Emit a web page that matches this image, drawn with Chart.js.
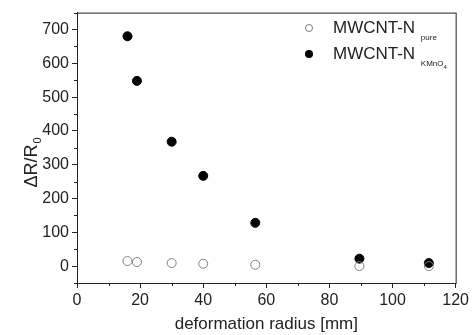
<!DOCTYPE html>
<html>
<head>
<meta charset="utf-8">
<script src="https://cdn.jsdelivr.net/npm/chart.js@4.4.0/dist/chart.umd.min.js"></script>
<style>
  html, body { margin: 0; padding: 0; background: #fff; }
  #wrap { width: 472px; height: 335px; }
</style>
</head>
<body>
<div id="wrap"><canvas id="ctx-radius"></canvas></div>
<script>
// deformation radius [mm]
const radius = [16, 19, 30, 40, 56.5, 89.5, 111.5];
// dR/R0 values
const purData = [15, 12, 9, 7, 4, 0, 0];
const kmnData = [680, 548, 368, 267, 128, 22, 9];

const xTicks = [0, 20, 40, 60, 80, 100, 120];
const xMinor = [10, 30, 50, 70, 90, 110];
const yTicks = [0, 100, 200, 300, 400, 500, 600, 700];
const yMinor = [-50, 50, 150, 250, 350, 450, 550, 650, 750];

const FONT = 'Liberation Sans, Arial, sans-serif';
const axisColor = '#222';

const toPoints = (vals) => radius.map((r, i) => ({ x: r, y: vals[i] }));

// frame, minor ticks, y title with subscript and the legend
const decor = {
    id: 'decor',
    afterDraw(chart) {
        const c = chart.ctx;
        const a = chart.chartArea;
        const xs = chart.scales.x;
        const ys = chart.scales.y;
        c.save();
        c.strokeStyle = axisColor;
        c.lineWidth = 1;
        c.strokeRect(a.left + 0.5, a.top + 0.5, a.right - a.left, a.bottom - a.top);

        c.beginPath();
        xMinor.forEach(v => {
            const px = Math.round(xs.getPixelForValue(v)) + 0.5;
            c.moveTo(px, a.bottom);
            c.lineTo(px, a.bottom + 3);
        });
        yMinor.forEach(v => {
            const py = Math.round(ys.getPixelForValue(v)) + 0.5;
            c.moveTo(a.left, py);
            c.lineTo(a.left - 3, py);
        });
        c.stroke();

        // y axis title
        c.fillStyle = '#222';
        c.translate(31, 163);
        c.rotate(-Math.PI / 2);
        c.font = '18px ' + FONT;
        c.textBaseline = 'alphabetic';
        c.textAlign = 'left';
        const main = '\u0394R/R';
        const w = c.measureText(main).width;
        c.font = '11px ' + FONT;
        const ws = c.measureText('0').width;
        const x0 = -(w + ws) / 2;
        c.font = '18px ' + FONT;
        c.fillText(main, x0, 6);
        c.font = '11px ' + FONT;
        c.fillText('0', x0 + w + 1, 10);
        c.setTransform(1, 0, 0, 1, 0, 0);

        // legend
        const items = [
            { sub: 'pure', sub2: '', filled: false, y: 28 },
            { sub: 'KMnO', sub2: '4', filled: true, y: 54 }
        ];
        items.forEach(it => {
            c.beginPath();
            c.arc(309, it.y, it.filled ? 4 : 3.5, 0, Math.PI * 2);
            if (it.filled) {
                c.fillStyle = '#000';
                c.fill();
            } else {
                c.strokeStyle = '#777';
                c.stroke();
            }
            c.fillStyle = '#222';
            c.font = '17px ' + FONT;
            c.textBaseline = 'middle';
            c.fillText('MWCNT-N', 333, it.y);
            const tw = c.measureText('MWCNT-N ').width;
            c.font = '8px ' + FONT;
            c.fillText(it.sub, 333 + tw + 1, it.y + 10);
            if (it.sub2) {
                const sw = c.measureText(it.sub).width;
                c.font = '6px ' + FONT;
                c.fillText(it.sub2, 333 + tw + 1 + sw, it.y + 13);
            }
        });
        c.restore();
    }
};

new Chart(document.getElementById('ctx-radius'), {
    type: 'scatter',
    data: {
        datasets: [
            {
                label: 'MWCNT-N pure',
                data: toPoints(purData),
                pointRadius: 4.5,
                pointBorderWidth: 1,
                pointBorderColor: '#808080',
                pointBackgroundColor: 'rgba(255,255,255,0)'
            },
            {
                label: 'MWCNT-N KMnO4',
                data: toPoints(kmnData),
                pointRadius: 4.5,
                pointBorderWidth: 1,
                pointBorderColor: '#000',
                pointBackgroundColor: '#000'
            }
        ]
    },
    options: {
        responsive: true,
        maintainAspectRatio: false,
        animation: false,
        layout: { padding: { top: 12, right: 12, left: 0, bottom: 0 } },
        plugins: {
            legend: { display: false },
            tooltip: { enabled: false }
        },
        scales: {
            x: {
                type: 'linear',
                min: 0,
                max: 120,
                afterBuildTicks: (s) => { s.ticks = xTicks.map(v => ({ value: v })); },
                afterFit: (s) => { s.height = 52; },
                grid: { drawOnChartArea: false, tickLength: 5, color: axisColor },
                border: { color: axisColor },
                ticks: { color: '#222', font: { family: FONT, size: 16 }, padding: 3, maxRotation: 0 },
                title: { display: true, text: 'deformation radius [mm]', color: '#222', font: { family: FONT, size: 17 }, padding: { top: 2, bottom: 0 } }
            },
            y: {
                type: 'linear',
                min: -50,
                max: 750,
                afterBuildTicks: (s) => { s.ticks = yTicks.map(v => ({ value: v })); },
                afterFit: (s) => { s.width = 77; },
                grid: { drawOnChartArea: false, tickLength: 5, color: axisColor },
                border: { color: axisColor },
                ticks: { color: '#222', font: { family: FONT, size: 16 }, padding: 3 }
            }
        }
    },
    plugins: [decor]
});
</script>
</body>
</html>
